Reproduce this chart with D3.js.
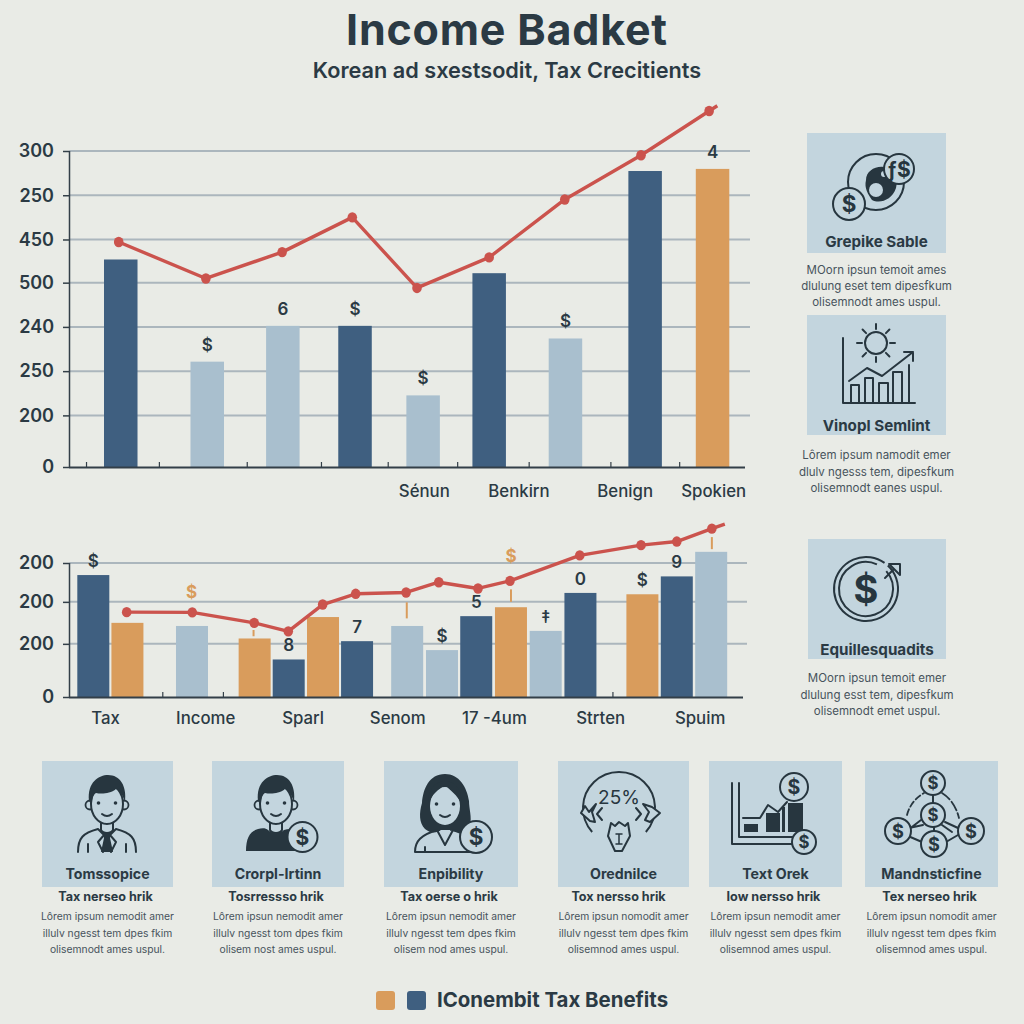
<!DOCTYPE html>
<html><head><meta charset="utf-8">
<script src="https://cdn.jsdelivr.net/npm/d3@7"></script>
<style>html,body{margin:0;padding:0;background:#e9ebe6}svg{display:block}text{font-family:Inter,"Liberation Sans",Arial,sans-serif}</style>
</head><body><div id="c"></div>
<script>
// ---- top chart data ----
const topAxisValues=[0,49,91,133,175,216,258,300];
const topAxisLabels=["0","200","250","240","500","450","250","300"];
const topBarPos=[7.6,20.3,31.4,42,52,61.7,72.9,84.6,94.5];
const topBarVals=[197,100,134,134,68,184,122,281,283];
const topBarKind=["d","l","l","d","l","d","l","d","o"];
const topBarMarks=["","$","6","$","$","","$","","4"];
const topLinePos=[7.3,20.1,31.3,41.6,51.1,61.7,72.8,84,94,95.2];
const topLineVals=[213.6,179,204,237,170,199,254,296,338,343];
const topTickPos=[2.5,13.2,26.1,37,46.8,57,67.5,79.5,89.6];
const topLabelPos=[52.1,66,81.6,94.6];
const topLabels=["Sénun","Benkirn","Benign","Spokien"];
// ---- lower chart data ----
const lowAxisValues=[0,119,213,300];
const lowAxisLabels=["0","200","200","200"];
const lowBarPos=[3.57,8.58,18.06,27.26,32.26,37.3,42.3,49.66,54.77,59.8,64.9,70,75.1,84.2,89.25,94.3];
const lowBarVals=[273,166,159,131,84,179,125,159,105,181,201,148,233,230,270,325];
const lowBarKind=["d","o","l","o","d","o","d","l","l","d","o","l","d","o","d","l"];
const lowBarMarks=["$","","","","8","","7","","$","5","","‡","0","$","9",""];
const lowLinePos=[8.47,18.1,27.2,32.2,37.25,42.1,49.5,54.3,60.06,64.76,75,84,89.25,94.4,96.3];
const lowLineVals=[190,189.5,166,147,207,231,234,257,243,260,317,340,348,377,387];
const lowTickPos=[13.7,22.6,79.8];
const lowLabelPos=[5.3,20,34.3,48.2,62.4,78,92.6];
const lowLabels=["Tax","Income","Sparl","Senom","17 -4um","Strten","Spuim"];
const lowAccentPos=[18,64.9];
const lowAccentVals=[222,303];
const lowStemPos=[27.1,49.6,64.9,94.4];
const lowStemFrom=[136,176,213,331];
const lowStemTo=[150,212,241,358];
// ---- text ----
const titleText="Income Badket";
const subtitleText="Korean ad sxestsodit, Tax Crecitients";
const sideTitles=["Grepike Sable","Vinopl Semlint","Equillesquadits"];
const sideBody=[["MOorn ipsun temoit ames","dlulung eset tem dipesfkum","olisemnodt ames uspul."],
 ["Lôrem ipsum namodit emer","dlulv ngesss tem, dipesfkum","olisemnodt eanes uspul."],
 ["MOorn ipsun temoit emer","dlulung esst tem, dipesfkum","olisemnodt emet uspul."]];
const cardTitles=["Tomssopice","Crorpl-Irtinn","Enpibility","Orednilce","Text Orek","Mandnsticfine"];
const cardSubs=["Tax nerseo hrik","Tosrressso hrik","Tax oerse o hrik","Tox nersso hrik","Iow nersso hrik","Tex nerseo hrik"];
const cardBody=[["Lôrem ipsum nemodit amer","illulv ngesst tem dpes fkim","olisemnodt ames uspul."],
 ["Lôrem ipsun nemodit amer","illulv ngesst tom dpes fkim","olisem nost ames uspul."],
 ["Lôrem ipsun nemodit amer","illulv ngesst tem dpes fkim","olisem nod ames uspul."],
 ["Lôrem ipsun nomodit amer","illulv ngesst tem dpes fkim","olisemnod ames uspul."],
 ["Lôrem ipsun nemodit amer","illulv ngesst sem dpes fkim","olisemnod ames uspul."],
 ["Lôrem ipsun nomodit amer","illulv ngesst tem dpes fkim","olisemnod ames uspul."]];
const legendText="IConembit Tax Benefits";

const INK="#27363f",PANEL="#c3d5de",TEXT="#2b3a44",BODY="#47535c",GRID="#abb6bd",RED="#cb534d";
const barColor={d:"#3f5f80",l:"#a9bfce",o:"#d99c5c"};
const svg=d3.select("#c").append("svg").attr("width",1024).attr("height",1024);
svg.append("rect").attr("width",1024).attr("height",1024).attr("fill","#e9ebe6");

svg.append("text").attr("x",507).attr("y",45).attr("text-anchor","middle").attr("font-size",43).attr("font-weight",700).attr("letter-spacing",0.8).attr("fill",TEXT).text(titleText);
svg.append("text").attr("x",507).attr("y",78).attr("text-anchor","middle").attr("font-size",21.7).attr("font-weight",600).attr("fill",TEXT).text(subtitleText);

const x=d3.scaleLinear().domain([0,100]).range([69,750]);

function chart(cfg){
  const y=d3.scaleLinear().domain([0,cfg.ymax]).range([cfg.y0,cfg.y1]);
  const g=svg.append("g");
  g.selectAll(".g").data(cfg.axisValues.slice(1)).join("line")
    .attr("x1",69).attr("x2",cfg.gridEnd).attr("y1",d=>y(d)).attr("y2",d=>y(d))
    .attr("stroke",GRID).attr("stroke-width",2);
  g.selectAll(".b").data(cfg.barVals).join("rect")
    .attr("x",(d,i)=>x(cfg.barPos[i])-cfg.bw/2).attr("width",cfg.bw)
    .attr("y",d=>y(d)).attr("height",d=>cfg.y0-y(d))
    .attr("fill",(d,i)=>barColor[cfg.barKind[i]]);
  g.selectAll(".m").data(cfg.barVals).join("text")
    .attr("x",(d,i)=>x(cfg.barPos[i])).attr("y",d=>y(d)-cfg.markGap)
    .attr("text-anchor","middle").attr("font-size",17).attr("font-weight",600).attr("fill",TEXT)
    .text((d,i)=>cfg.barMarks[i]);
  const ya=g.append("g").attr("transform","translate(69,0)")
    .call(d3.axisLeft(y).tickValues(cfg.axisValues).tickSize(6).tickPadding(9)
      .tickFormat((d,i)=>cfg.axisLabels[i]));
  ya.select(".domain").attr("stroke","#333f48").attr("stroke-width",1.5).attr("d",`M0.5,${cfg.y1}V${cfg.y0}`);
  ya.selectAll("line").attr("stroke","#333f48").attr("stroke-width",1.5);
  ya.selectAll("text").attr("font-size",18).attr("font-weight",600).attr("fill",TEXT).attr("font-family","Inter");
  const xa=g.append("g").attr("transform",`translate(0,${cfg.y0})`)
    .call(d3.axisBottom(x).tickValues(cfg.tickPos).tickSize(-5).tickFormat(""));
  xa.select(".domain").attr("stroke","#333f48").attr("stroke-width",2).attr("d",`M69,0.5H${cfg.axisEnd}`);
  xa.selectAll("line").attr("stroke","#333f48").attr("stroke-width",1.2);
  const xl=g.append("g").attr("transform",`translate(0,${cfg.y0})`)
    .call(d3.axisBottom(x).tickValues(cfg.labelPos).tickSize(0).tickPadding(cfg.labelPad)
      .tickFormat((d,i)=>cfg.labels[i]));
  xl.select(".domain").remove();
  xl.selectAll("text").attr("font-size",16.8).attr("fill",TEXT).attr("font-family","Inter").attr("font-weight",500);
  if(cfg.extra) cfg.extra(g,y);
  const pts=cfg.lineVals.map((v,i)=>[x(cfg.linePos[i]),y(v)]);
  g.append("path").attr("d",d3.line()(pts)).attr("fill","none").attr("stroke",RED).attr("stroke-width",3.4).attr("stroke-linejoin","round");
  g.selectAll(".d").data(pts.slice(0,-1)).join("ellipse")
    .attr("cx",d=>d[0]).attr("cy",d=>d[1]).attr("rx",4.8).attr("ry",5.2).attr("fill",RED);
}
chart({y0:467,y1:151,ymax:300,gridEnd:750,axisEnd:745,bw:33.5,markGap:11,
  axisValues:topAxisValues,axisLabels:topAxisLabels,barPos:topBarPos,barVals:topBarVals,barKind:topBarKind,barMarks:topBarMarks,
  linePos:topLinePos,lineVals:topLineVals,tickPos:topTickPos,labelPos:topLabelPos,labels:topLabels,labelPad:18});
chart({y0:697,y1:563,ymax:300,gridEnd:747,axisEnd:743,bw:32,markGap:8,
  axisValues:lowAxisValues,axisLabels:lowAxisLabels,barPos:lowBarPos,barVals:lowBarVals,barKind:lowBarKind,barMarks:lowBarMarks,
  linePos:lowLinePos,lineVals:lowLineVals,tickPos:lowTickPos,labelPos:lowLabelPos,labels:lowLabels,labelPad:15,
  extra:(g,y)=>{
    g.selectAll(".st").data(lowStemFrom).join("line")
      .attr("x1",(d,i)=>x(lowStemPos[i])).attr("x2",(d,i)=>x(lowStemPos[i]))
      .attr("y1",d=>y(d)).attr("y2",(d,i)=>y(lowStemTo[i]))
      .attr("stroke","#d99c5c").attr("stroke-width",2);
    g.selectAll(".ac").data(lowAccentVals).join("text")
      .attr("x",(d,i)=>x(lowAccentPos[i])).attr("y",d=>y(d))
      .attr("text-anchor","middle").attr("font-size",17).attr("font-weight",700).attr("fill","#d99c5c").text("$");
  }});

function panel(x0,y0,w,h){svg.append("rect").attr("x",x0).attr("y",y0).attr("width",w).attr("height",h).attr("fill",PANEL);}
function label(cx,yy,t,size,weight,fill){return svg.append("text").attr("x",cx).attr("y",yy).attr("text-anchor","middle").attr("font-size",size).attr("font-weight",weight).attr("fill",fill).text(t);}
function body(cx,ys,lines,size){lines.forEach((t,i)=>label(cx,ys[i],t,size,400,BODY));}

const sides=[[807,133,139,120],[807,315,139,120],[808,539,138,120]];
const sideTitleY=[247,431,655];
const sideBodyY=[[274,290,306],[459,476,492],[682,699,715]];
sides.forEach((p,i)=>{panel(...p);label(p[0]+p[2]/2,sideTitleY[i],sideTitles[i],15.2,700,TEXT);body(p[0]+p[2]/2,sideBodyY[i],sideBody[i],11.5);});

const cards=[[42,131],[212,132],[384,134],[558,131],[709,133],[865,133]];
cards.forEach((p,i)=>{const cx=p[0]+p[1]/2;panel(p[0],761,p[1],126);
  label(cx,879,cardTitles[i],14.2,700,TEXT);
  label(cx-2+(i===3?-3:0),901,cardSubs[i],12.6,700,TEXT);
  body(cx,[920,937,953],cardBody[i],10.3);});

svg.append("rect").attr("x",376).attr("y",991).attr("width",19).attr("height",19).attr("rx",3).attr("fill","#d99c5c");
svg.append("rect").attr("x",407).attr("y",991).attr("width",19).attr("height",19).attr("rx",3).attr("fill","#3f5f80");
svg.append("text").attr("x",437).attr("y",1007).attr("font-size",20.4).attr("font-weight",700).attr("fill",TEXT).text(legendText);

// ---- icons ----
const ic=svg.append("g");
function coin(cx,cy,r,t){
  ic.append("circle").attr("cx",cx).attr("cy",cy).attr("r",r).attr("fill",PANEL).attr("stroke",INK).attr("stroke-width",2);
  ic.append("text").attr("x",cx).attr("y",cy+r*.5).attr("text-anchor","middle").attr("font-size",r*1.4).attr("font-weight",700).attr("fill",INK).text(t||"$");
}
function sp(d,w){return ic.append("path").attr("d",d).attr("fill","none").attr("stroke",INK).attr("stroke-width",w||2).attr("stroke-linecap","round").attr("stroke-linejoin","round");}
function fp(d,f){return ic.append("path").attr("d",d).attr("fill",f||INK);}

// Grepike
ic.append("circle").attr("cx",876).attr("cy",182).attr("r",28).attr("fill","none").attr("stroke",INK).attr("stroke-width",2);
fp("M866,180C866,170 878,164 888,168C896,172 898,180 896,188C892,200 880,204 872,200C868,194 864,188 866,180Z");
ic.append("circle").attr("cx",876).attr("cy",190).attr("r",7).attr("fill",PANEL);
ic.append("circle").attr("cx",884).attr("cy",174).attr("r",3).attr("fill",PANEL);
coin(849,204,16);coin(899,169,15,"ƒ$");

// Vinopl
sp("M843,338V403H915");
ic.append("circle").attr("cx",876).attr("cy",343).attr("r",11).attr("fill","none").attr("stroke",INK).attr("stroke-width",2);
d3.range(8).forEach(i=>{const a=i*Math.PI/4,c=Math.cos(a),s=Math.sin(a);sp(`M${876+c*14},${343+s*14}L${876+c*19},${343+s*19}`);});
sp("M851,403V385H859V403M865,403V378H873V403M879,403V383H888V403M893,403V372H902V403M909,403V365");
sp("M849,381L867,368L882,376L913,352M904,352H913V361");

// Equilles
ic.append("path").attr("d",d3.arc()({innerRadius:32,outerRadius:32,startAngle:0.75,endAngle:6.9})).attr("transform","translate(866,589)").attr("fill","none").attr("stroke",INK).attr("stroke-width",2);
ic.append("path").attr("d",d3.arc()({innerRadius:27,outerRadius:27,startAngle:0.85,endAngle:6.7})).attr("transform","translate(866,589)").attr("fill","none").attr("stroke",INK).attr("stroke-width",2);
ic.append("text").attr("x",866).attr("y",603).attr("text-anchor","middle").attr("font-size",38).attr("font-weight",700).attr("fill",INK).text("$");
sp("M889,564H900V575L889,564M893,570L885,578");

function person(cx,cy,kind){
  const g=ic.append("g").attr("transform",`translate(${cx},${cy})`);
  const S=(d,w)=>g.append("path").attr("d",d).attr("fill","none").attr("stroke",INK).attr("stroke-width",w||2).attr("stroke-linecap","round").attr("stroke-linejoin","round");
  const F=(d,f)=>g.append("path").attr("d",d).attr("fill",f||INK);
  if(kind===3){F("M0,-29C-16,-29 -22,-14 -23,0C-26,10 -26,20 -20,26C-14,31 -8,30 -4,27H6C14,31 22,29 25,22C27,14 24,6 24,-2C22,-16 14,-29 0,-29Z");}
  if(kind!==3) S("M-6,20V28C-4,32 4,32 6,28V20");
  else S("M-6,20V27M6,20V27");
  if(kind!==3){[-1,1].forEach(s=>g.append("circle").attr("cx",s*17).attr("cy",3).attr("r",4.5).attr("fill",PANEL).attr("stroke",INK).attr("stroke-width",1.8));}
  g.append("ellipse").attr("cx",0).attr("cy",kind===3?3:2).attr("rx",kind===3?15:16).attr("ry",kind===3?19:20).attr("fill",PANEL).attr("stroke",kind===3?"none":INK).attr("stroke-width",2);
  if(kind!==3) F("M-18,-1C-20,-20 -8,-27 1,-27C13,-27 20,-16 18,0C16,-6 13,-11 9,-13C3,-8 -6,-8 -11,-9C-14,-7 -15,-4 -15,3Z");
  else F("M-16,0C-14,-8 -6,-14 0,-18C6,-12 12,-8 16,0C18,-12 10,-22 0,-22C-10,-22 -18,-12 -16,0Z");
  [-1,1].forEach(s=>g.append("circle").attr("cx",s*8.5).attr("cy",1).attr("r",1.8).attr("fill",INK));
  S("M-5,12Q0,16 5,12");
  if(kind===1){
    S("M-29,50C-29,36 -24,31 -9,27L-3,33L-9,40L-4,50M29,50C29,36 24,31 9,27L3,33L9,40L4,50M-19,50V42M19,50V42");
    F("M-4,30H4L3,36L6,50H-6L-3,36Z");
  }
  if(kind===2){
    F("M-30,49C-30,36 -26,29 -18,27C-14,26 -10,26 -8,28C-4,32 4,32 8,28C14,26 22,27 28,32V49Z");
  }
  if(kind===3){
    S("M-30,49C-30,38 -24,32 -8,27L0,42L8,27C18,30 26,36 30,42M-30,49H28M-20,49V44");
  }
}
person(107,802,1);person(276,802,2);person(445,803,3);
coin(302.5,837,15);coin(476,837,16);

// Orednilce
ic.append("path").attr("d",d3.arc()({innerRadius:36,outerRadius:36,startAngle:-2.3,endAngle:2.3})).attr("transform","translate(619,808)").attr("fill","none").attr("stroke",INK).attr("stroke-width",2);
ic.append("text").attr("x",619).attr("y",804).attr("text-anchor","middle").attr("font-size",19).attr("fill",INK).text("25%");
sp("M602,808L597,814L602,820");sp("M636,808L641,814L636,820");
const rib=(d)=>ic.append("path").attr("d",d).attr("fill",PANEL).attr("stroke",INK).attr("stroke-width",2).attr("stroke-linejoin","round");
rib("M589,812L596,804L592,812L595,822L590,821L581,813L585,806Z");
rib("M649,812L643,804L652,807L660,813L650,822L645,820Z");
rib("M611,823L615,826L619,822L625,826L628,823L630,836L622,851H615L608,836Z");
sp("M616,834H622M619,834V844M616,844H622",1.5);

// Text Orek
sp("M732,783V844H797");sp("M739,783V837H794");
fp("M744,824H758V832H744ZM766,813H780V832H766ZM788,803H803V832H788Z");
fp("M782,807H785V832H782Z");
sp("M743,818H760L768,805L778,812L787,802");
coin(794,787,14);coin(804,842,12);

// Mandnsticfine
sp("M933,795V803M942,825L952,832M923,825L909,828M921,820L908,830M945,822L958,828M934,827V832M908,836L922,842M946,842L958,835");
sp("M907,815C910,804 916,798 924,793",1.8).attr("stroke-dasharray","6 3");
sp("M942,793C950,798 956,806 959,818",1.8).attr("stroke-dasharray","10 3");
coin(933,783,12);coin(933,815,12);coin(898,831,13);coin(971,831,13);coin(934,844,13);
</script></body></html>
